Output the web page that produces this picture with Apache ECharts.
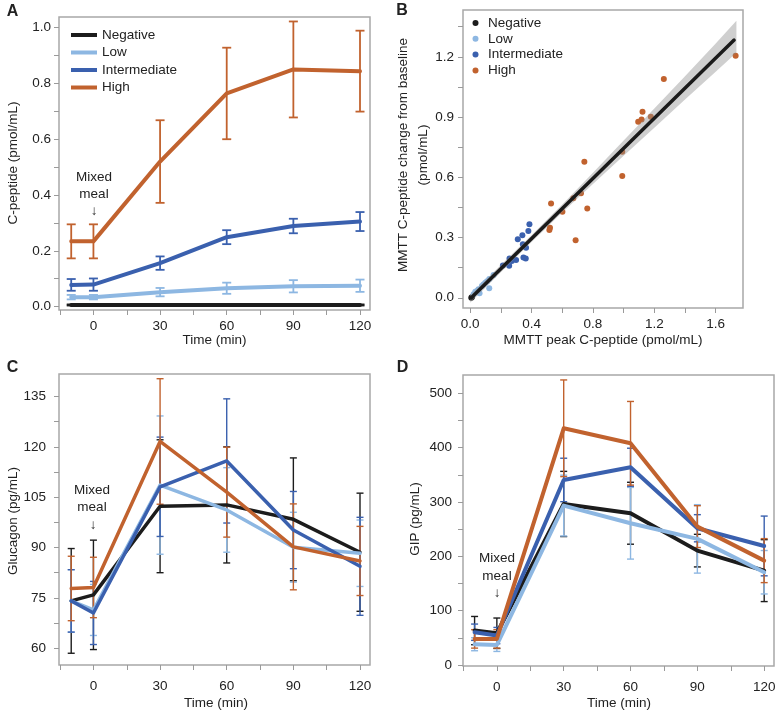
<!DOCTYPE html>
<html><head><meta charset="utf-8">
<script src="https://cdn.jsdelivr.net/npm/echarts@6/dist/echarts.min.js"></script>
<style>html,body{margin:0;padding:0;background:#fff}#c{width:781px;height:716px}</style>
</head><body><div id="c"></div>
<script>
// ---------- DATA ----------
const groups = ['Negative', 'Low', 'Intermediate', 'High'];
const times = [-10, 0, 30, 60, 90, 120];
const timeLabels = [0, 30, 60, 90, 120];
const timeTicks = [-15, 0, 15, 30, 45, 60, 75, 90, 105, 120];

// Panel A: C-peptide (pmol/mL), mean and error half-width
const aNeg = [0.006, 0.006, 0.006, 0.006, 0.006, 0.006];
const aNegErr = [0.002, 0.002, 0.002, 0.002, 0.002, 0.002];
const aLow = [0.034, 0.034, 0.052, 0.066, 0.073, 0.075];
const aLowErr = [0.008, 0.008, 0.015, 0.020, 0.022, 0.022];
const aInt = [0.078, 0.079, 0.156, 0.249, 0.289, 0.305];
const aIntErr = [0.021, 0.022, 0.024, 0.025, 0.026, 0.034];
const aHigh = [0.234, 0.234, 0.520, 0.764, 0.850, 0.844];
const aHighErr = [0.061, 0.061, 0.148, 0.164, 0.172, 0.145];
const aYTicks = [0, 0.1, 0.2, 0.3, 0.4, 0.5, 0.6, 0.7, 0.8, 0.9, 1.0];
const aYLabels = [0, 0.2, 0.4, 0.6, 0.8, 1.0];

// Panel B: peak C-peptide (x) vs change from baseline (y)
const bNeg = [[0.007, 0.000], [0.012, 0.004]];
const bLow = [[0.152, 0.113], [0.124, 0.093], [0.124, 0.047], [0.098, 0.075], [0.076, 0.058],
  [0.054, 0.042], [0.033, 0.030], [0.022, 0.017], [0.061, 0.022], [0.045, 0.035], [0.086, 0.066], [0.110, 0.082]];
const bInt = [[0.386, 0.366], [0.379, 0.332], [0.340, 0.311], [0.310, 0.291], [0.364, 0.249],
  [0.343, 0.266], [0.256, 0.196], [0.299, 0.188], [0.347, 0.201], [0.362, 0.196], [0.271, 0.183],
  [0.213, 0.161], [0.254, 0.159]];
const bHigh = [[1.730, 1.205], [1.262, 1.089], [1.123, 0.926], [1.095, 0.877], [1.117, 0.888],
  [1.177, 0.901], [0.991, 0.727], [0.991, 0.606], [0.744, 0.677], [0.763, 0.445], [0.722, 0.520],
  [0.672, 0.495], [0.601, 0.428], [0.527, 0.470], [0.520, 0.349], [0.516, 0.337], [0.687, 0.287]];
const fitX = [0.007, 1.720];
const fitY = [0.000, 1.283];
const bandX = [0.0, 0.2, 0.4, 0.6, 0.8, 1.0, 1.2, 1.4, 1.6, 1.735];
const bandLo = [-0.025, 0.127, 0.278, 0.425, 0.567, 0.707, 0.847, 0.987, 1.126, 1.220];
const bandHi = [0.015, 0.163, 0.312, 0.465, 0.623, 0.783, 0.943, 1.103, 1.266, 1.380];
const bXTicks = [0, 0.2, 0.4, 0.6, 0.8, 1.0, 1.2, 1.4, 1.6];
const bXLabels = [0, 0.4, 0.8, 1.2, 1.6];
const bYTicks = [0, 0.15, 0.3, 0.45, 0.6, 0.75, 0.9, 1.05, 1.2, 1.35];
const bYLabels = [0, 0.3, 0.6, 0.9, 1.2];

// Panel C: Glucagon (pg/mL)
const cNeg = [74.1, 75.9, 102.3, 102.7, 98.4, 88.6];
const cNegErr = [15.6, 16.3, 19.8, 17.3, 18.3, 17.6];
const cLow = [74.1, 71.4, 108.6, 101.2, 90.1, 88.3];
const cLowErr = [9.3, 7.6, 20.6, 12.6, 10.4, 9.9];
const cInt = [74.1, 70.5, 108.1, 115.8, 95.2, 84.4];
const cIntErr = [9.3, 9.4, 14.8, 18.5, 11.5, 14.6];
const cHigh = [77.8, 78.1, 121.6, 106.5, 90.2, 86.0];
const cHighErr = [9.6, 9.0, 18.7, 13.4, 12.8, 10.3];
const cYTicks = [60, 67.5, 75, 82.5, 90, 97.5, 105, 112.5, 120, 127.5, 135];
const cYLabels = [60, 75, 90, 105, 120, 135];

// Panel D: GIP (pg/mL)
const dNeg = [63.2, 58.3, 296.3, 279.2, 210.4, 173.6];
const dNegErr = [26, 28, 60, 57, 30, 57];
const dLow = [38.1, 36.8, 293.3, 260.8, 232.0, 170.6];
const dLowErr = [12, 12, 56, 66, 63, 40];
const dInt = [60.2, 54.0, 340.5, 363.9, 251.6, 219.0];
const dIntErr = [15, 15, 40, 35, 25, 55];
const dHigh = [47.9, 47.9, 435.6, 408.0, 254.6, 192.0];
const dHighErr = [17, 17, 89, 77, 38.5, 40.5];
const dYTicks = [0, 50, 100, 150, 200, 250, 300, 350, 400, 450, 500];
const dYLabels = [0, 100, 200, 300, 400, 500];

// ---------- STYLE ----------
const COL = {Negative: '#1c1c1c', Low: '#8db7e2', Intermediate: '#3a60ae', High: '#c1622e'};
const ff = '"Liberation Sans", Arial, Helvetica, sans-serif';
const txt = '#222';
const tickCol = '#9a9a9a';
const FS = 13.5;

function pairs(xs, ys) { return xs.map((x, i) => [x, ys[i]]); }
function errData(means, errs) { return times.map((t, i) => [t, means[i] - errs[i], means[i] + errs[i]]); }

function errSeries(gi, name, means, errs, capW, lw, z) {
  const color = COL[name];
  return {
    type: 'custom', name: 'err-' + gi + '-' + name, xAxisIndex: gi, yAxisIndex: gi, z: z || 2,
    silent: true, data: errData(means, errs), encode: {x: 0, y: [1, 2]},
    renderItem: function (p, api) {
      const x = api.value(0), lo = api.value(1), hi = api.value(2);
      const a = api.coord([x, lo]), b = api.coord([x, hi]);
      const st = {stroke: color, lineWidth: lw, fill: null};
      return {type: 'group', children: [
        {type: 'line', shape: {x1: a[0], y1: a[1], x2: b[0], y2: b[1]}, style: st},
        {type: 'line', shape: {x1: a[0] - capW / 2, y1: a[1], x2: a[0] + capW / 2, y2: a[1]}, style: st},
        {type: 'line', shape: {x1: b[0] - capW / 2, y1: b[1], x2: b[0] + capW / 2, y2: b[1]}, style: st}
      ]};
    }
  };
}
function lineSeries(gi, name, means, width, z) {
  return {
    type: 'line', name: name, xAxisIndex: gi, yAxisIndex: gi, data: pairs(times, means),
    symbol: 'none', z: z || 3, lineStyle: {color: COL[name], width: width, join: 'round', cap: 'round'},
    itemStyle: {color: COL[name]}
  };
}
function ax(gi, min, max, tickVals, labelVals, margin, fmt) {
  return {
    type: 'value', gridIndex: gi, min: min, max: max,
    axisLine: {show: false, onZero: false},
    axisTick: {show: true, length: 5, customValues: tickVals, lineStyle: {color: tickCol, width: 1}},
    axisLabel: {customValues: labelVals, margin: margin, color: txt, fontSize: FS, fontFamily: ff,
      formatter: fmt || (v => String(v))},
    splitLine: {show: false}
  };
}
const f1 = v => v.toFixed(1);
const gridBase = {show: true, borderColor: '#a8a8a8', borderWidth: 1.5, backgroundColor: 'transparent',
  containLabel: false, outerBoundsMode: 'none'};

const series = [];
// Panel A
const aSets = [['Negative', aNeg, aNegErr], ['Low', aLow, aLowErr], ['Intermediate', aInt, aIntErr], ['High', aHigh, aHighErr]];
aSets.forEach(s => series.push(lineSeries(0, s[0], s[1], 4, 4)));
aSets.forEach(s => series.push(errSeries(0, s[0], s[1], s[2], 9, 1.8, 3)));
// Panel B
const bSets = [['Negative', bNeg], ['Low', bLow], ['Intermediate', bInt], ['High', bHigh]];
bSets.forEach(s => series.push({
  type: 'scatter', name: s[0], xAxisIndex: 1, yAxisIndex: 1, data: s[1], symbolSize: 6, z: 2,
  itemStyle: {color: COL[s[0]], opacity: 1}
}));
series.push({
  type: 'custom', name: 'band', xAxisIndex: 1, yAxisIndex: 1, silent: true, z: 3, data: [[0, 0]],
  renderItem: function (p, api) {
    const pts = [];
    for (let i = 0; i < bandX.length; i++) pts.push(api.coord([bandX[i], bandHi[i]]));
    for (let i = bandX.length - 1; i >= 0; i--) pts.push(api.coord([bandX[i], bandLo[i]]));
    return {type: 'polygon', shape: {points: pts}, style: {fill: 'rgba(140,140,140,0.42)'}};
  }
});
series.push({
  type: 'line', name: 'fit', xAxisIndex: 1, yAxisIndex: 1, data: pairs(fitX, fitY), symbol: 'none', z: 4,
  lineStyle: {color: '#1a1a1a', width: 3.5, cap: 'round'}, silent: true
});
// Panel C
const cSets = [['Negative', cNeg, cNegErr], ['Low', cLow, cLowErr], ['Intermediate', cInt, cIntErr], ['High', cHigh, cHighErr]];
cSets.forEach(s => series.push(errSeries(2, s[0], s[1], s[2], 7, 1.4, 2)));
cSets.forEach(s => series.push(lineSeries(2, s[0], s[1], 3.5, 3)));
// Panel D
const dSets = [['Negative', dNeg, dNegErr], ['Low', dLow, dLowErr], ['Intermediate', dInt, dIntErr], ['High', dHigh, dHighErr]];
dSets.forEach(s => series.push(errSeries(3, s[0], s[1], s[2], 7, 1.4, 2)));
dSets.forEach(s => series.push(lineSeries(3, s[0], s[1], 4, 3)));

function T(text, x, y, opts) {
  opts = opts || {};
  return {type: 'text', x: x, y: y, rotation: opts.rot || 0, silent: true, z: 10,
    style: {text: text, fill: txt, fontSize: opts.fs || FS, fontFamily: ff, fontWeight: opts.fw || 'normal',
      align: opts.align || 'center', verticalAlign: 'middle', lineHeight: opts.lh || undefined}};
}
const R = Math.PI / 2;
const graphics = [
  T('A', 12.5, 12, {fs: 16, fw: 'bold'}),
  T('B', 402, 11, {fs: 16, fw: 'bold'}),
  T('C', 12.5, 368, {fs: 16, fw: 'bold'}),
  T('D', 402.5, 368, {fs: 16, fw: 'bold'}),
  T('C-peptide (pmol/mL)', 13, 163, {rot: R}),
  T('Time (min)', 214.5, 340),
  T('MMTT C-peptide change from baseline\n(pmol/mL)', 413, 155, {rot: R, lh: 20}),
  T('MMTT peak C-peptide (pmol/mL)', 603, 340),
  T('Glucagon (pg/mL)', 13, 521, {rot: R}),
  T('Time (min)', 216, 703),
  T('GIP (pg/mL)', 415, 519, {rot: R}),
  T('Time (min)', 619, 703),
  T('Mixed', 94, 177), T('meal', 94, 194), T('\u2193', 94, 211),
  T('Mixed', 92, 490), T('meal', 92, 507), T('\u2193', 93, 525),
  T('Mixed', 497, 558), T('meal', 497, 576), T('\u2193', 497, 593)
];

const option = {
  animation: false,
  backgroundColor: '#fff',
  grid: [
    Object.assign({left: 59, top: 17, width: 311, height: 293}, gridBase),
    Object.assign({left: 463, top: 10, width: 280, height: 298}, gridBase),
    Object.assign({left: 59, top: 374, width: 311, height: 291}, gridBase),
    Object.assign({left: 463, top: 375, width: 311, height: 291}, gridBase)
  ],
  xAxis: [
    ax(0, -15.5, 124.5, timeTicks, timeLabels, 9),
    ax(1, -0.047, 1.778, bXTicks, bXLabels, 9, f1),
    ax(2, -15.5, 124.5, timeTicks, timeLabels, 14),
    ax(3, -15.2, 124.4, timeTicks, timeLabels, 14)
  ],
  yAxis: [
    ax(0, -0.012, 1.038, aYTicks, aYLabels, 8, f1),
    ax(1, -0.051, 1.433, bYTicks, bYLabels, 9, f1),
    ax(2, 55.0, 141.7, cYTicks, cYLabels, 13),
    ax(3, -2, 533.7, dYTicks, dYLabels, 11)
  ],
  legend: [
    {left: 66, top: 23, orient: 'vertical', icon: 'rect', itemWidth: 26, itemHeight: 4, itemGap: 3.5,
      data: groups, selectedMode: false, textStyle: {fontSize: FS, color: txt, fontFamily: ff}},
    {left: 467.5, top: 11, orient: 'vertical', icon: 'circle', itemWidth: 15, itemHeight: 6, itemGap: 1.8,
      data: groups, selectedMode: false, textStyle: {fontSize: FS, color: txt, fontFamily: ff}}
  ],
  graphic: graphics,
  series: series
};
const chart = echarts.init(document.getElementById('c'), null, {renderer: 'canvas'});
chart.setOption(option);
</script></body></html>
